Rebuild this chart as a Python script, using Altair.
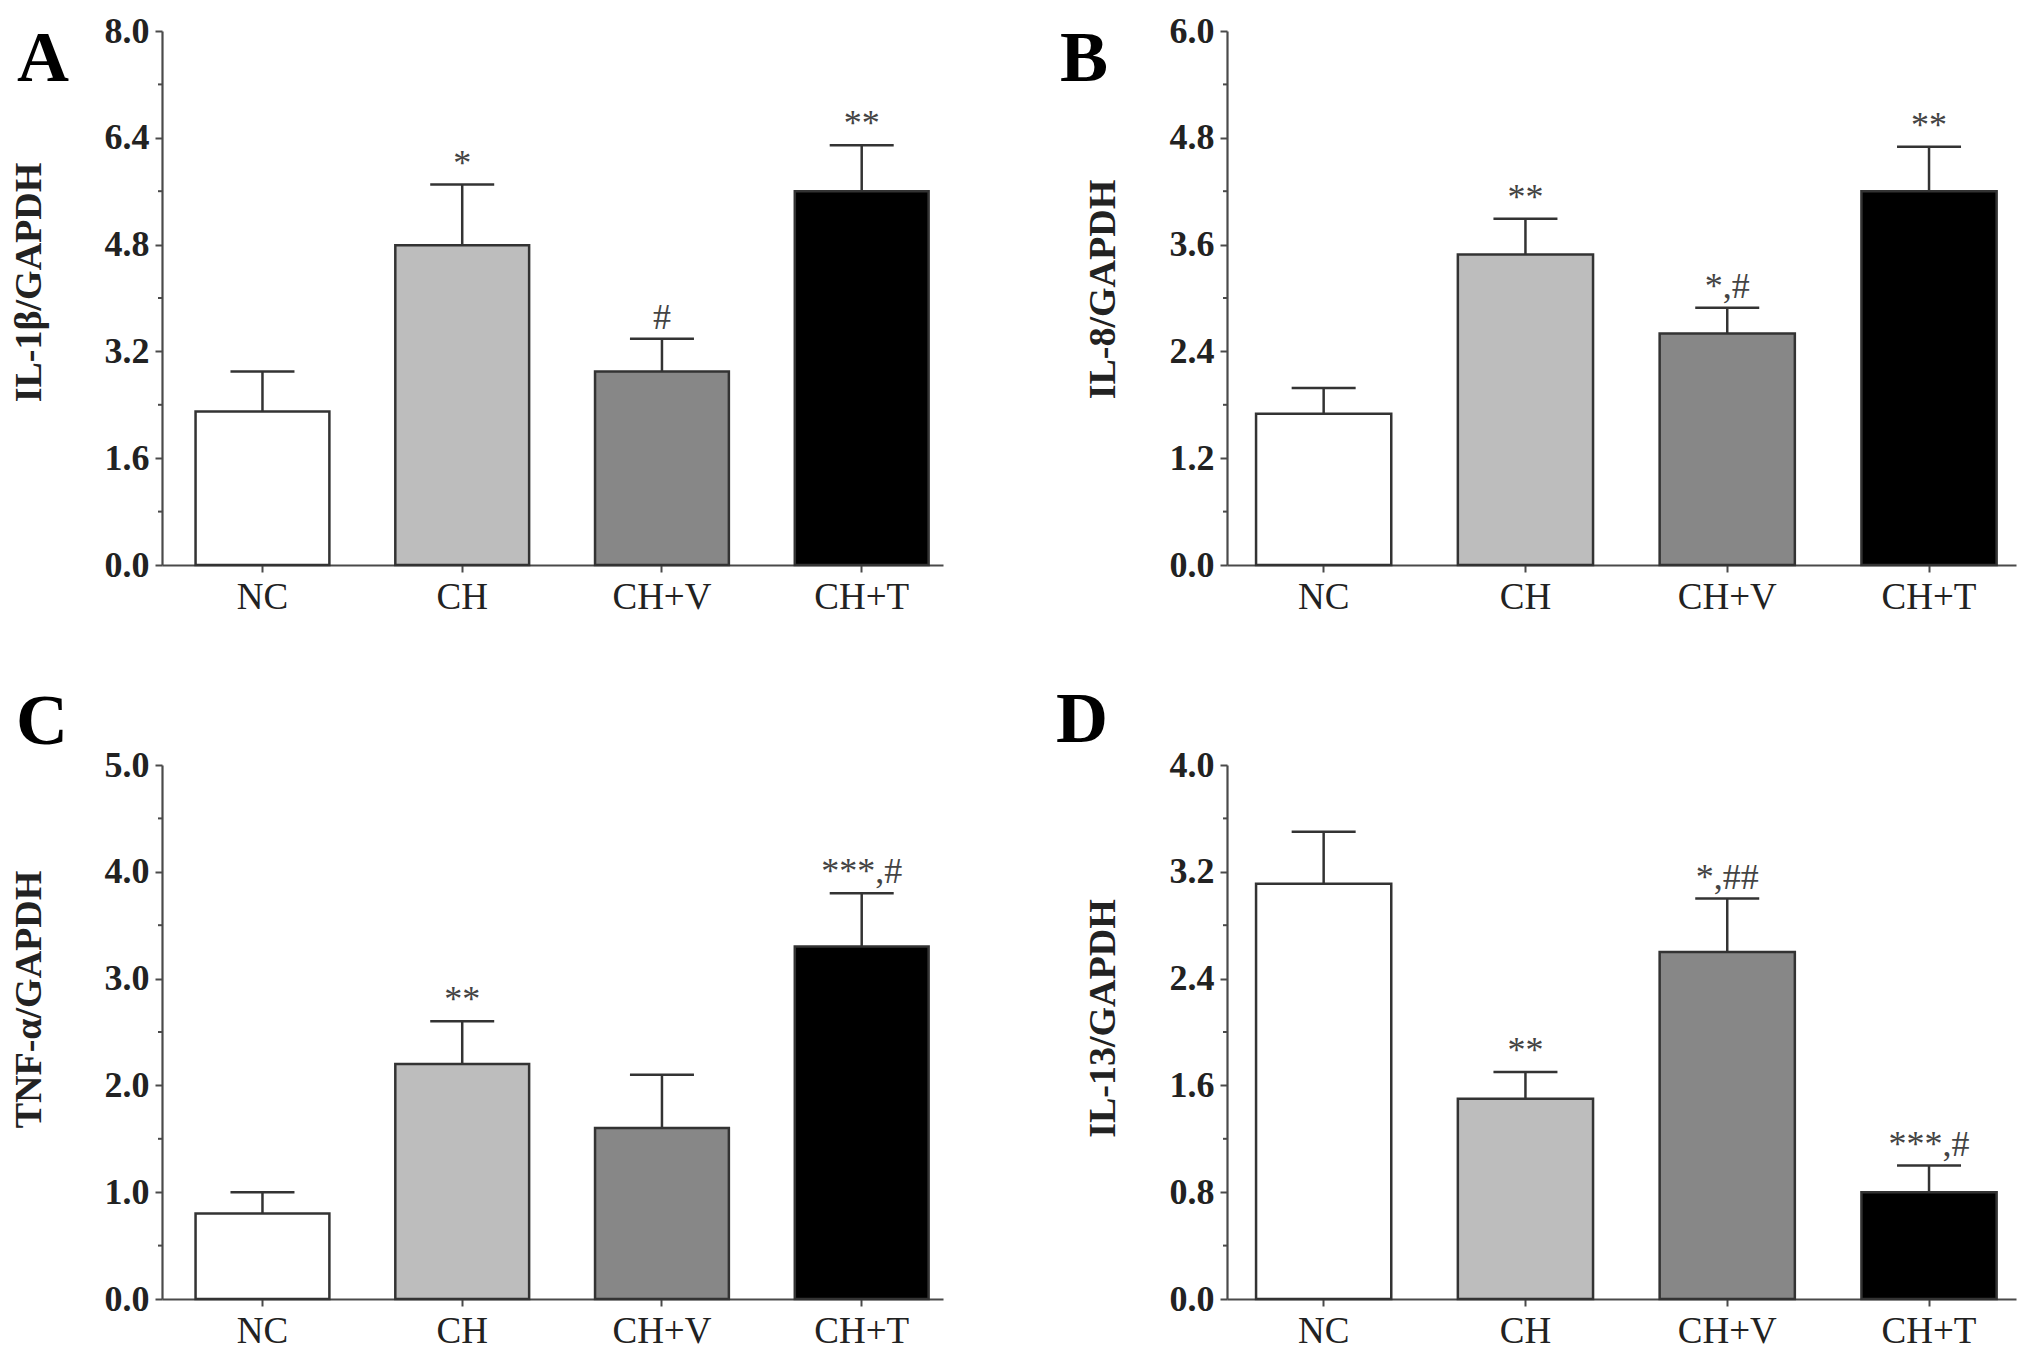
import altair as alt
import pandas as pd

groups = ["NC", "CH", "CH+V", "CH+T"]
bar_colors = ["#ffffff", "#bdbdbd", "#878787", "#000000"]

# Panel A: IL-1beta
a_mean = [2.30, 4.79, 2.90, 5.60]
a_err = [0.60, 0.91, 0.49, 0.69]
a_sig = ["", "*", "#", "**"]
a_ticks = [0.0, 1.6, 3.2, 4.8, 6.4, 8.0]
a_minor = [0.8, 2.4, 4.0, 5.6, 7.2]

# Panel B: IL-8
b_mean = [1.70, 3.49, 2.60, 4.20]
b_err = [0.29, 0.40, 0.29, 0.50]
b_sig = ["", "**", "*,#", "**"]
b_ticks = [0.0, 1.2, 2.4, 3.6, 4.8, 6.0]
b_minor = [0.6, 1.8, 3.0, 4.2, 5.4]

# Panel C: TNF-alpha
c_mean = [0.80, 2.20, 1.60, 3.30]
c_err = [0.20, 0.40, 0.50, 0.50]
c_sig = ["", "**", "", "***,#"]
c_ticks = [0.0, 1.0, 2.0, 3.0, 4.0, 5.0]
c_minor = [0.5, 1.5, 2.5, 3.5, 4.5]

# Panel D: IL-13
d_mean = [3.11, 1.50, 2.60, 0.80]
d_err = [0.39, 0.20, 0.40, 0.20]
d_sig = ["", "**", "*,##", "***,#"]
d_ticks = [0.0, 0.8, 1.6, 2.4, 3.2, 4.0]
d_minor = [0.4, 1.2, 2.0, 2.8, 3.6]

FONT = "Liberation Serif"
AXIS_COLOR = "#4a4a4a"
EDGE = "#333333"
H = 534


def panel(mean, err, sig, ticks, minor, ytitle, letter, width, align,
          title_x, title_y, letter_x, letter_y):
    df = pd.DataFrame({"group": groups, "value": mean, "err": err, "sig": sig})
    base = alt.Chart(df).transform_calculate(upper="datum.value + datum.err")
    xscale = alt.Scale(domain=groups, paddingInner=0.33, paddingOuter=0.12, align=align)
    yscale = alt.Scale(domain=[ticks[0], ticks[-1]], nice=False, zero=True)

    xaxis = alt.Axis(
        title=None, labelAngle=0, labelFont=FONT, labelFontSize=37,
        labelColor="#222222", labelPadding=7, tickSize=7, tickWidth=2,
        tickColor=AXIS_COLOR, domainColor=AXIS_COLOR, domainWidth=2.2,
    )
    yaxis = alt.Axis(
        values=ticks, format=".1f", grid=False, title=ytitle,
        titleFont=FONT, titleFontSize=38, titleFontWeight="bold",
        titleColor="#222222", titleX=title_x, titleY=title_y,
        titleAlign="center", titleBaseline="middle", titleAngle=270,
        labelFont=FONT, labelFontSize=36, labelFontWeight="bold",
        labelColor="#222222", labelPadding=6, tickSize=7, tickWidth=2,
        tickColor=AXIS_COLOR, domainColor=AXIS_COLOR, domainWidth=2.2,
    )

    def X():
        return alt.X("group:N", sort=groups, scale=xscale, axis=xaxis)

    def Y(field):
        return alt.Y(field, scale=yscale, axis=yaxis)

    bars = base.mark_bar(stroke=EDGE, strokeWidth=2.5).encode(
        x=X(),
        y=Y("value:Q"),
        color=alt.Color("group:N", scale=alt.Scale(domain=groups, range=bar_colors), legend=None),
    )
    stems = base.mark_rule(color=EDGE, strokeWidth=2.5).encode(
        x=X(), y=Y("value:Q"), y2="upper:Q",
    )
    caps = base.mark_tick(color=EDGE, thickness=2.5, size=64, opacity=1).encode(
        x=X(), y=Y("upper:Q"),
    )
    labels = base.mark_text(
        font=FONT, fontSize=36, color="#444444", baseline="alphabetic", dy=-10
    ).encode(x=X(), y=Y("upper:Q"), text="sig:N")

    minor_df = pd.DataFrame({"v": minor})
    minor_ticks = alt.Chart(minor_df).mark_rule(color=AXIS_COLOR, strokeWidth=2).encode(
        y=Y("v:Q"), x=alt.value(0), x2=alt.value(-4),
    )
    letter_df = pd.DataFrame({"t": [letter]})
    letter_mark = alt.Chart(letter_df).mark_text(
        font=FONT, fontSize=72, fontWeight="bold", color="#000000",
        align="left", baseline="alphabetic",
    ).encode(text="t:N", x=alt.value(letter_x), y=alt.value(letter_y))

    return alt.layer(bars, stems, caps, labels, minor_ticks, letter_mark).properties(
        width=width, height=H
    )


pA = panel(a_mean, a_err, a_sig, a_ticks, a_minor, "IL-1β/GAPDH", "A", 781, 0.7,
           -133, 251, -145, 50)
pB = panel(b_mean, b_err, b_sig, b_ticks, b_minor, "IL-8/GAPDH", "B", 789, 0.6,
           -124, 258, -167, 50)
pC = panel(c_mean, c_err, c_sig, c_ticks, c_minor, "TNF-α/GAPDH", "C", 781, 0.7,
           -133, 234, -146, -21)
pD = panel(d_mean, d_err, d_sig, d_ticks, d_minor, "IL-13/GAPDH", "D", 789, 0.6,
           -124, 253, -171, -23)

chart = alt.concat(
    pA, pB, pC, pD, columns=2, spacing={"row": 200, "column": 284}, bounds="flush"
).properties(
    padding={"left": 2, "top": 5, "right": 5, "bottom": 5},
    background="white",
).configure_view(stroke=None)

chart.save("out.html", embed_options={"renderer": "svg", "actions": False})
